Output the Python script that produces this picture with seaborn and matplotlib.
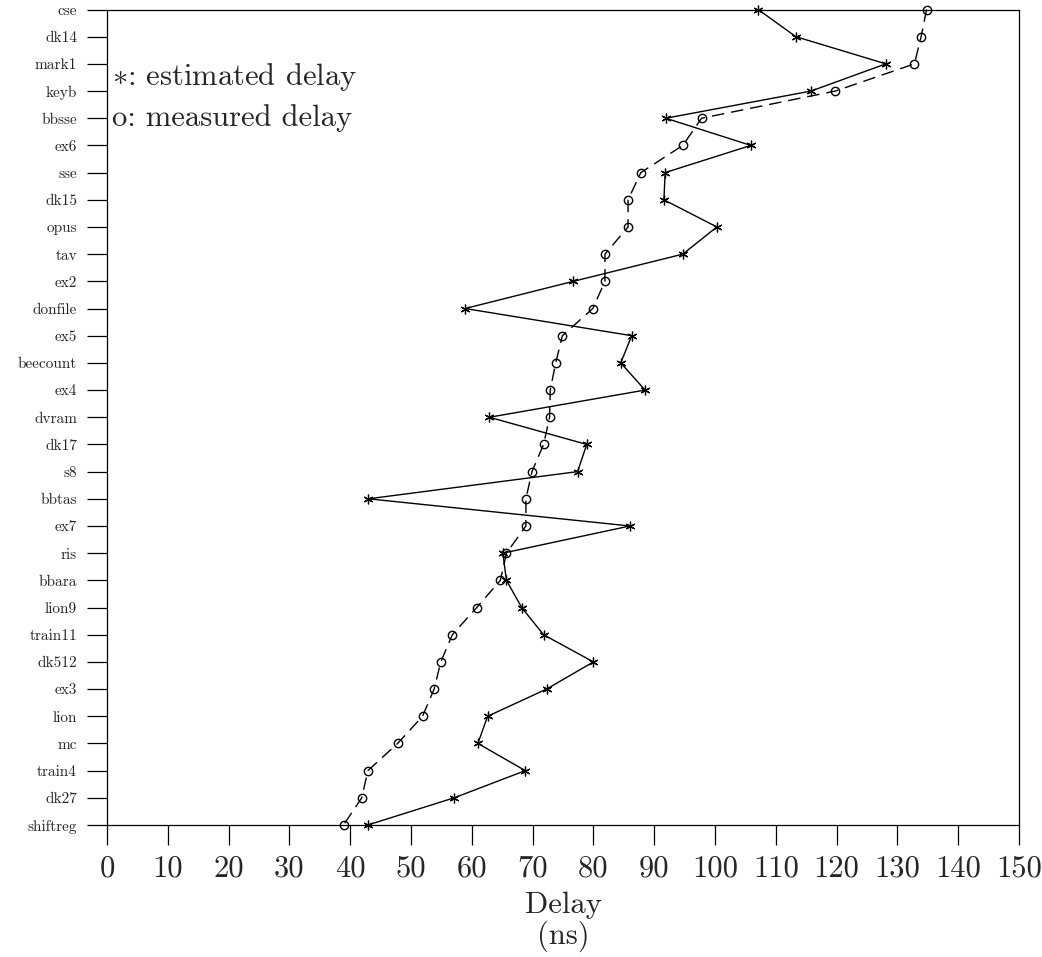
import numpy as np
import pandas as pd
import matplotlib
matplotlib.use("Agg")
import matplotlib.pyplot as plt
import seaborn as sns

circuits = ["cse", "dk14", "mark1", "keyb", "bbsse", "ex6", "sse", "dk15", "opus", "tav",
            "ex2", "donfile", "ex5", "beecount", "ex4", "dvram", "dk17", "s8", "bbtas", "ex7",
            "ris", "bbara", "lion9", "train11", "dk512", "ex3", "lion", "mc", "train4", "dk27",
            "shiftreg"]
estimated = [107.1, 113.3, 128.1, 115.8, 91.9, 105.9, 91.8, 91.6, 100.3, 94.7,
             76.7, 58.9, 86.3, 84.5, 88.5, 62.9, 78.9, 77.4, 43.0, 86.0,
             65.1, 65.7, 68.2, 71.8, 80.0, 72.3, 62.6, 61.0, 68.8, 57.1,
             42.9]
measured = [134.8, 133.9, 132.8, 119.8, 97.8, 94.7, 87.8, 85.7, 85.7, 81.9,
            81.9, 79.9, 74.9, 73.8, 72.9, 72.8, 71.8, 69.9, 68.9, 68.9,
            65.7, 64.7, 60.8, 56.8, 54.9, 53.8, 51.9, 47.8, 42.9, 41.9,
            38.9]
x_ticks = list(range(0, 151, 10))
legend_lines = [r"$\ast$: estimated delay", "o: measured delay"]
x_label = "Delay\n(ns)"

sns.set_style("ticks")
plt.rcParams["font.family"] = ["cmr10", "DejaVu Serif"]
plt.rcParams["mathtext.fontset"] = "cm"
plt.rcParams["axes.formatter.use_mathtext"] = True

df = pd.DataFrame({"circuit": circuits, "estimated": estimated, "measured": measured})
df["pos"] = np.arange(len(circuits))

fig = plt.figure(figsize=(10.42, 9.57), dpi=100)
ax = fig.add_axes([107 / 1042, 1 - 825 / 957, 912 / 1042, (825 - 9.5) / 957])

sns.lineplot(data=df, x="estimated", y="pos", sort=False, estimator=None, orient="y",
             color="black", lw=1.0, marker=(6, 2, 0), ms=7, mew=0.9, mec="black",
             clip_on=False, ax=ax)
sns.lineplot(data=df, x="measured", y="pos", sort=False, estimator=None, orient="y",
             color="black", lw=1.0, linestyle=(0, (9, 5)), marker="o", ms=6,
             mfc="none", mec="black", mew=1.0, clip_on=False, ax=ax)

ax.set_xlim(0, 150)
ax.set_ylim(len(circuits) - 1, 0)
ax.set_xticks(x_ticks)
ax.set_xticklabels([str(t) for t in x_ticks])
ax.set_yticks(df["pos"])
ax.set_yticklabels(circuits)

for sp in ax.spines.values():
    sp.set_visible(True)
    sp.set_color("black")
    sp.set_linewidth(0.9)

ax.tick_params(axis="both", direction="out", length=14.5, width=0.9, color="black")
ax.tick_params(axis="x", labelsize=22, pad=7)
ax.tick_params(axis="y", labelsize=11, pad=7)

ax.set_xlabel(x_label, fontsize=22, linespacing=1.05, labelpad=7)
ax.set_ylabel("")
ax.grid(False)

ax.text(0.005, 0.907, legend_lines[0], transform=ax.transAxes, fontsize=22,
        ha="left", va="baseline")
ax.text(0.005, 0.857, legend_lines[1], transform=ax.transAxes, fontsize=22,
        ha="left", va="baseline")

fig.savefig("out.png", dpi=100)
